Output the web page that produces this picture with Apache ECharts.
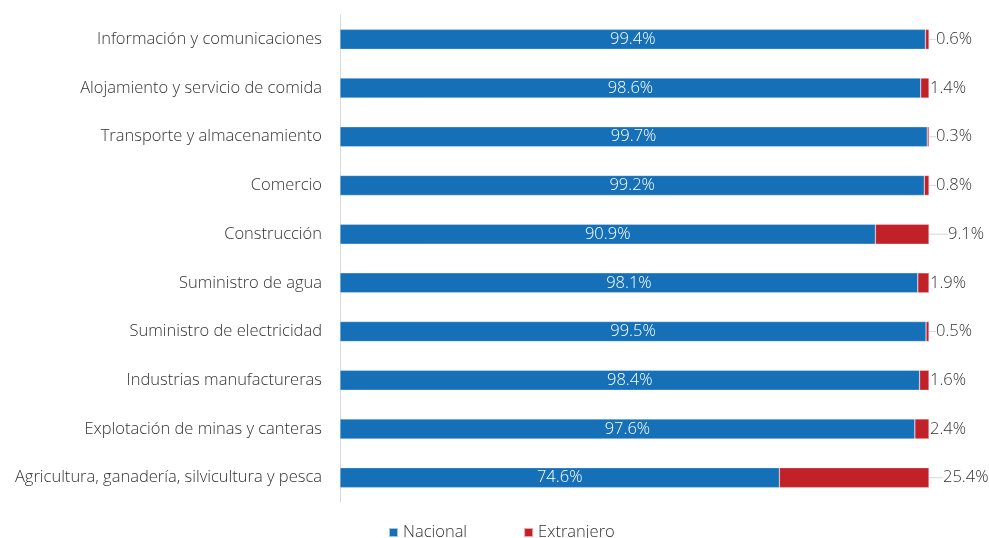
<!DOCTYPE html>
<html>
<head>
<meta charset="utf-8">
<script src="https://cdn.jsdelivr.net/npm/echarts@6/dist/echarts.min.js"></script>
<style>
  html, body { margin: 0; padding: 0; background: #ffffff; }
  #chart { width: 989px; height: 538px; }
</style>
</head>
<body>
<div id="chart"></div>
<script>
// Sectores económicos (de arriba hacia abajo)
const categories = [
  'Información y comunicaciones',
  'Alojamiento y servicio de comida',
  'Transporte y almacenamiento',
  'Comercio',
  'Construcción',
  'Suministro de agua',
  'Suministro de electricidad',
  'Industrias manufactureras',
  'Explotación de minas y canteras',
  'Agricultura, ganadería, silvicultura y pesca'
];
// Participación porcentual por origen del capital
const nacional   = [99.4, 98.6, 99.7, 99.2, 90.9, 98.1, 99.5, 98.4, 97.6, 74.6];
const extranjero = [0.6, 1.4, 0.3, 0.8, 9.1, 1.9, 0.5, 1.6, 2.4, 25.4];
const seriesNames = ['Nacional', 'Extranjero'];

const FONT = '"Open Sans", Lato, sans-serif';
const FS = 16.5;
const WEIGHT = 300;
const BLUE = '#1570b8';
const RED = '#c32128';

const chart = echarts.init(document.getElementById('chart'), null, { renderer: 'canvas' });

chart.setOption({
  animation: false,
  textStyle: { fontFamily: FONT },
  grid: { left: 340, right: 60, top: 15, bottom: 36, containLabel: false },
  legend: {
    top: 519,
    left: 383,
    itemWidth: 9,
    itemHeight: 9,
    itemGap: 56,
    icon: 'rect',
    textStyle: { fontFamily: FONT, fontSize: FS, fontWeight: WEIGHT, color: '#333333' },
    data: seriesNames
  },
  xAxis: {
    type: 'value',
    min: 0,
    max: 100,
    show: false
  },
  yAxis: {
    type: 'category',
    inverse: true,
    data: categories,
    axisLine: { show: true, lineStyle: { color: '#d9d9d9', width: 1 } },
    axisTick: { show: false },
    axisLabel: { margin: 18, fontFamily: FONT, fontSize: FS, fontWeight: WEIGHT, color: '#333333' }
  },
  series: [
    {
      name: seriesNames[0],
      type: 'bar',
      stack: 'total',
      barWidth: 20,
      data: nacional,
      itemStyle: { color: BLUE, borderColor: 'rgba(255,255,255,0.6)', borderWidth: 0.5 },
      label: {
        show: true,
        position: 'inside',
        color: '#ffffff',
        fontFamily: FONT,
        fontSize: FS,
        fontWeight: WEIGHT,
        formatter: p => p.value.toFixed(1) + '%'
      }
    },
    {
      name: seriesNames[1],
      type: 'bar',
      stack: 'total',
      barWidth: 20,
      data: extranjero,
      itemStyle: { color: RED, borderColor: 'rgba(255,255,255,0.6)', borderWidth: 0.5 },
      label: {
        show: true,
        position: 'right',
        distance: 3,
        color: '#333333',
        fontFamily: FONT,
        fontSize: FS,
        fontWeight: WEIGHT,
        formatter: p => p.value.toFixed(1) + '%'
      },
      labelLine: { show: true, lineStyle: { color: '#d9d9d9', width: 1 } },
      labelLayout: function (params) {
        const v = extranjero[params.dataIndex];
        if (v > 20) return { dx: 11 };
        if (v > 5) return { dx: 16 };
        return { dx: v < 1 ? 4 : -2 };
      }
    }
  ]
});
</script>
</body>
</html>
